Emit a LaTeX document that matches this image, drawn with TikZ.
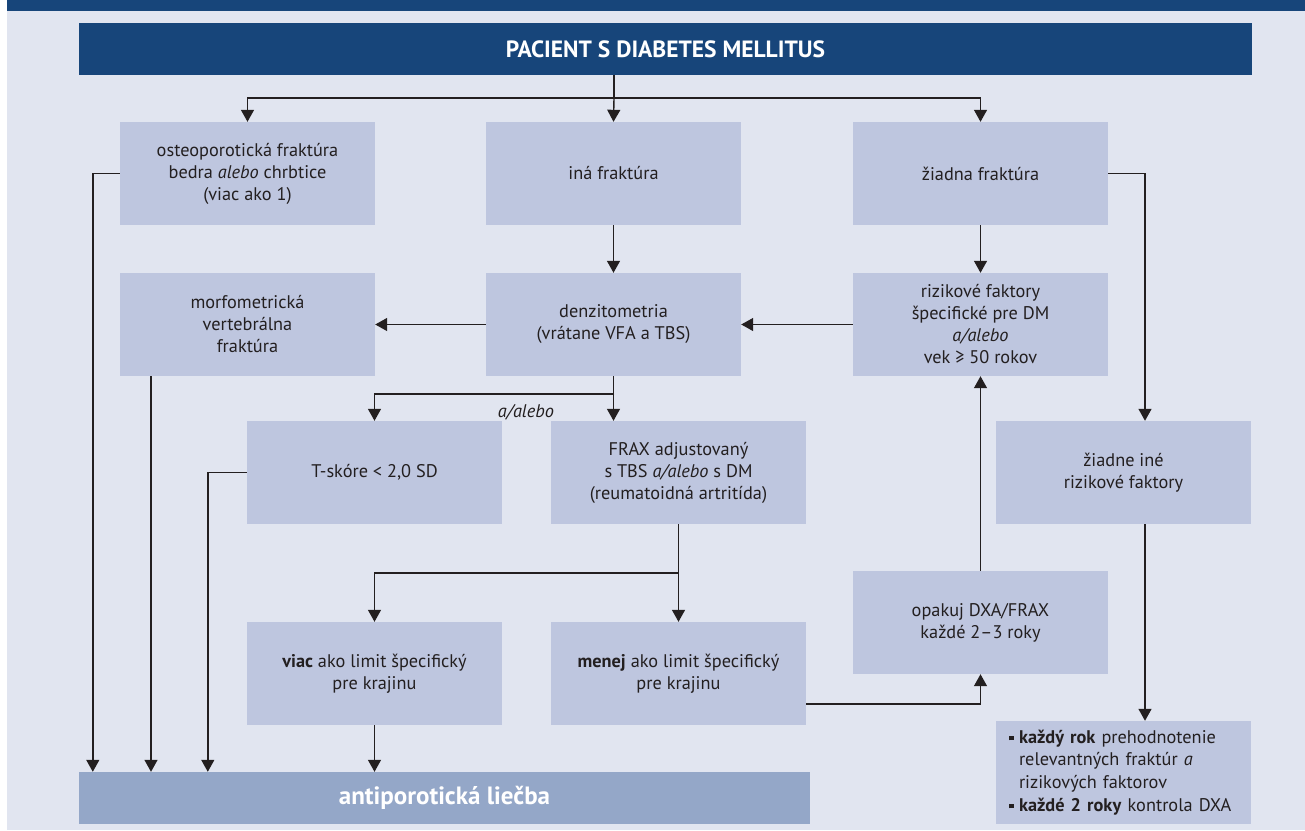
\documentclass[tikz,border=0pt]{standalone}
\usepackage{fontspec}
\setmainfont{PT Sans}
\usetikzlibrary{arrows.meta,calc}
\definecolor{pagebg}{HTML}{E1E5F0}
\definecolor{darkblue}{HTML}{17457A}
\definecolor{boxfill}{HTML}{BEC6DF}
\definecolor{resfill}{HTML}{94A7C8}
\definecolor{ink}{HTML}{231F20}
\newcommand\sqbul{\makebox[10pt][l]{\rule[3pt]{4.5pt}{4.5pt}}}
\begin{document}
\begin{tikzpicture}[x=1pt,y=-1pt,
  every node/.style={font=\fontsize{18.3}{22}\selectfont, text=ink},
  box/.style={fill=boxfill, draw=none, inner sep=0pt, minimum width=255pt, minimum height=103pt, align=center},
  conn/.style={draw=ink, line width=1.4pt},
  arr/.style={conn, -{Triangle[length=12pt,width=13pt]}}]
\useasboundingbox (0,0) rectangle (1305,830);
\fill[white] (0,0) rectangle (1305,830);
\fill[pagebg] (7,11) rectangle (1305,830);
\fill[darkblue] (7,0) rectangle (1305,11);
% header
\node[fill=darkblue, inner sep=0pt, minimum width=1173pt, minimum height=52pt, text=white,
  font=\fontsize{23.5}{26}\selectfont\bfseries] (header) at (665.5,49) {PACIENT S DIABETES MELLITUS};
% row 1
\node[box] (osteo) at (247.5,173.5) {osteoporotická fraktúra\\bedra \textit{alebo} chrbtice\\(viac ako 1)};
\node[box] (ina) at (613.5,173.5) {iná fraktúra};
\node[box] (ziadna) at (980.5,173.5) {žiadna fraktúra};
% row 2
\node[box] (morph) at (247.5,324.5) {morfometrická\\vertebrálna\\fraktúra};
\node[box] (denz) at (613.5,324.5) {denzitometria\\(vrátane VFA a TBS)};
\node[box] (rizik) at (980.5,324.5) {rizikové faktory\\špecifické pre DM\\\textit{a/alebo}\\vek ≥ 50 rokov};
% row 3
\node[box] (tskore) at (374.5,472.5) {T-skóre < 2,0 SD};
\node[box] (frax) at (678.5,472.5) {FRAX adjustovaný\\s TBS \textit{a/alebo} s DM\\(reumatoidná artritída)};
\node[box] (zine) at (1123.5,472.5) {žiadne iné\\rizikové faktory};
% row 4
\node[box] (opakuj) at (980.5,622.5) {opakuj DXA/FRAX\\každé 2–3 roky};
\node[box] (viac) at (374.5,673.5) {\textbf{viac} ako limit špecifický\\pre krajinu};
\node[box] (menej) at (678.5,673.5) {\textbf{menej} ako limit špecifický\\pre krajinu};
% bottom
\node[fill=resfill, inner sep=0pt, minimum width=731pt, minimum height=52pt, text=white,
  font=\fontsize{25}{28}\selectfont\bfseries] (antipor) at (444.5,798) {antiporotická liečba};
\node[box, text width=229pt, align=left, font=\fontsize{18.3}{22.7}\selectfont] (last) at (1123.5,772.5)
  {\sqbul\textbf{každý rok} prehodnotenie\\\hspace*{10pt}relevantných fraktúr \textit{a}\\\hspace*{10pt}rizikových faktorov\\\sqbul\textbf{každé 2 roky} kontrola DXA};
% label
\node[font=\fontsize{18.3}{22}\selectfont\itshape, anchor=base] (aalebo) at (526,417) {a/alebo};
% connectors
\coordinate (j0) at (614,98);
\draw[conn] (header.south -| j0) -- (j0);
\draw[arr] (j0) -| (osteo.north);
\draw[arr] (j0) -- (ina.north);
\draw[arr] (j0) -| (ziadna.north);
\draw[arr] (ina.south) -- (denz.north);
\draw[arr] (ziadna.south) -- (rizik.north);
\draw[arr] (rizik.west) -- (denz.east);
\draw[arr] (denz.west) -- (morph.east);
\draw[arr] (osteo.west) -| ([xshift=14pt]antipor.north west);
\draw[arr] ([xshift=-96.5pt]morph.south) -- ([xshift=-96.5pt]morph.south |- antipor.north);
\draw[arr] (tskore.west) -| ([xshift=129pt]antipor.north west);
\draw[arr] (viac.south) -- (viac.south |- antipor.north);
\coordinate (j1) at (614,394);
\draw[arr] (denz.south) -- (denz.south |- frax.north);
\draw[arr] (j1) -| (tskore.north);
\coordinate (j2) at (678.5,573);
\draw[arr] (frax.south) -- (menej.north);
\draw[arr] (j2) -| (viac.north);
\draw[arr] ([yshift=-30.5pt]menej.east) -| (opakuj.south);
\draw[arr] (opakuj.north) -- (rizik.south);
\draw[arr] (ziadna.east) -| ([xshift=21.5pt]zine.north);
\draw[arr] ([xshift=21.5pt]zine.south) -- ([xshift=21.5pt]zine.south |- last.north);
\end{tikzpicture}
\end{document}
